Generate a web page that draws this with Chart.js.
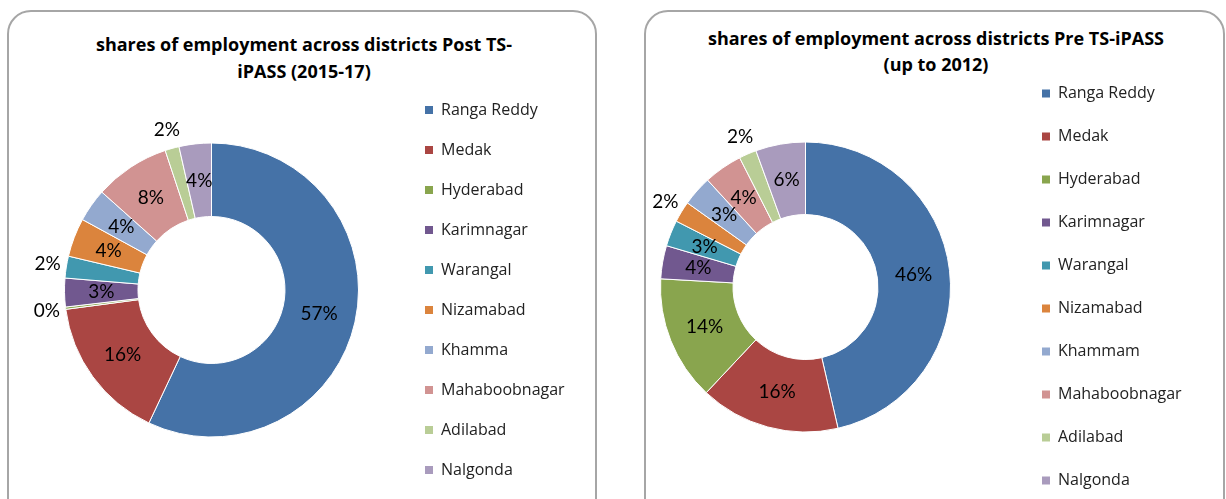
<!DOCTYPE html>
<html>
<head>
<meta charset="utf-8">
<script src="https://cdn.jsdelivr.net/npm/chart.js@4.4.1/dist/chart.umd.min.js"></script>
<style>
    body { margin: 0; width: 1226px; height: 499px; overflow: hidden; background: #fff; }
    .panel { position: absolute; top: 10px; height: 540px; border: 2px solid #a6a6a6; border-radius: 24px; box-sizing: border-box; }
    .chart-title { position: absolute; text-align: center; font-family: 'Open Sans', sans-serif; font-weight: bold; font-size: 18px; color: #000; }
    canvas { position: absolute; }
</style>
</head>
<body>
<div class="panel" style="left:7px; width:590px"></div>
<div class="panel" style="left:644px; width:581px"></div>
<div class="chart-title" style="left:9px; top:31px; width:590px; line-height:27px">shares of employment across districts Post TS-<br>iPASS (2015-17)</div>
<div class="chart-title" style="left:646px; top:25px; width:580px; line-height:26px">shares of employment across districts Pre TS-iPASS<br>(up to 2012)</div>
<canvas id="postChart" width="590" height="500" style="left:8px; top:12px; width:590px; height:500px"></canvas>
<canvas id="preChart" width="636" height="510" style="left:590px; top:12px; width:636px; height:510px"></canvas>
<script>
const districtsPost = ['Ranga Reddy', 'Medak', 'Hyderabad', 'Karimnagar', 'Warangal', 'Nizamabad', 'Khamma', 'Mahaboobnagar', 'Adilabad', 'Nalgonda'];
const sharesPost = [57.0, 15.9, 0.25, 3.15, 2.4, 4.25, 3.65, 8.3, 1.55, 3.55];

const districtsPre = ['Ranga Reddy', 'Medak', 'Hyderabad', 'Karimnagar', 'Warangal', 'Nizamabad', 'Khammam', 'Mahaboobnagar', 'Adilabad', 'Nalgonda'];
const sharesPre = [46.4, 15.6, 13.9, 3.7, 2.9, 2.35, 3.35, 4.3, 1.95, 5.55];

const sliceColors = ['#4572A7', '#AA4643', '#89A54E', '#71588F', '#4198AF', '#DB843D', '#93A9CF', '#D19392', '#B9CD96', '#A99BBD'];

const legendFont = "'Open Sans', sans-serif";
const legendSize = 16;
const legendBox = 8;

Chart.defaults.font.family = legendFont;

// percent labels: inside the ring, small slices pushed outside
const sliceLabels = {
    id: 'sliceLabels',
    afterDatasetsDraw(chart) {
        let c = chart.ctx;
        let values = chart.data.datasets[0].data;
        let total = values.reduce((a, b) => a + b, 0);
        c.save();
        c.font = "19px Lato, sans-serif";
        c.fillStyle = '#000';
        c.textAlign = 'center';
        c.textBaseline = 'middle';
        chart.getDatasetMeta(0).data.forEach(function (arc, i) {
            let p = arc.getProps(['x', 'y', 'startAngle', 'endAngle', 'innerRadius', 'outerRadius'], true);
            let share = values[i] / total * 100;
            let mid = (p.startAngle + p.endAngle) / 2;
            let r = share < 2.5 ? p.outerRadius + 19 : (p.innerRadius + p.outerRadius) / 2;
            c.fillText(Math.round(share) + '%', p.x + Math.cos(mid) * r, p.y + Math.sin(mid) * r);
        });
        c.restore();
    }
};

// right padding so that the legend starts at legendLeft
function rightPadding(canvas, labels, legendLeft, gap) {
    let probe = canvas.getContext('2d');
    probe.font = legendSize + 'px ' + legendFont;
    let widest = Math.max.apply(null, labels.map(function (t) { return probe.measureText(t).width; }));
    let legendWidth = gap + legendBox + legendSize / 2 + widest + 10;
    return canvas.width - legendLeft - legendWidth;
}

function makeDoughnut(canvasId, labels, values, radius, pad, legendLeft, legendGap) {
    let canvas = document.getElementById(canvasId);
    pad.right = rightPadding(canvas, labels, legendLeft, legendGap);
    return new Chart(canvas.getContext('2d'), {
        type: 'doughnut',
        data: {
            labels: labels,
            datasets: [{
                data: values,
                backgroundColor: sliceColors,
                borderColor: '#ffffff',
                borderWidth: 1,
                radius: radius,
                cutout: '50%'
            }]
        },
        options: {
            responsive: false,
            animation: false,
            devicePixelRatio: 1,
            layout: { padding: pad },
            plugins: {
                tooltip: { enabled: false },
                legend: {
                    position: 'right',
                    labels: {
                        boxWidth: legendBox,
                        boxHeight: legendBox,
                        padding: legendGap,
                        color: '#222',
                        font: { size: legendSize },
                        generateLabels: function (chart) {
                            let items = Chart.overrides.doughnut.plugins.legend.labels.generateLabels(chart);
                            items.forEach(function (item) { item.lineWidth = 0; });
                            return items;
                        }
                    }
                }
            }
        },
        plugins: [sliceLabels]
    });
}

let postChart = makeDoughnut('postChart', districtsPost, sharesPost, 147, { left: 14, top: 58, bottom: 2 }, 393, 24);
let preChart = makeDoughnut('preChart', districtsPre, sharesPre, 145, { left: 6, top: 40, bottom: 0 }, 425, 27);
</script>
</body>
</html>
